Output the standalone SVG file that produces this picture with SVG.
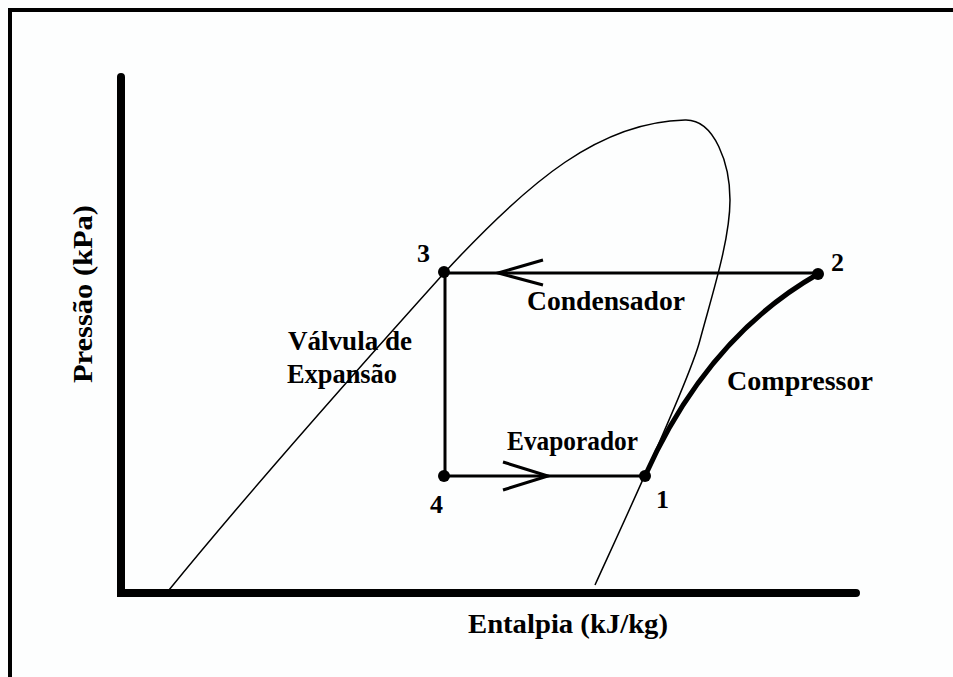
<svg xmlns="http://www.w3.org/2000/svg" width="953" height="677" viewBox="0 0 953 677">
<style>
.t{font-family:"Liberation Serif","Times New Roman",serif;font-weight:bold;fill:#000}
.lab{font-size:27px}
.num{font-size:26px}
.thin{fill:none;stroke:#000;stroke-width:1.5}
.ln{fill:none;stroke:#000;stroke-width:3}
.axis{fill:none;stroke:#000;stroke-width:8;stroke-linecap:round}
.dot{fill:#000}
</style>
<rect x="0" y="0" width="953" height="677" fill="#fdfefe"/>
<rect x="8" y="8" width="945" height="4" fill="#000"/>
<rect x="8" y="8" width="4" height="669" fill="#000"/>
<g id="axes">
<path class="axis" d="M121,77 L121,593 L856,593"/>
<text class="t lab" transform="translate(92,383) rotate(-90)" textLength="178" lengthAdjust="spacingAndGlyphs">Pressão (kPa)</text>
<text class="t lab" x="468" y="633" textLength="200" lengthAdjust="spacingAndGlyphs">Entalpia (kJ/kg)</text>
</g>
<g id="dome">
<path class="thin" d="M169,590 C230,515 330,400 445,272 C530,180 600,122 685,120 C715,119 730,165 730,200 C730,240 712,295 700,340 C690,380 620,530 595,585"/>
</g>
<g id="connectors">
<path class="ln" d="M818,273 L445,273"/>
<path class="ln" d="M543,260 L498,273 L543,285"/>
<path class="ln" d="M445,273 L445,476"/>
<path class="ln" d="M445,476 L645,476"/>
<path class="ln" d="M503,462 L548,476 L503,490"/>
<path fill="none" stroke="#000" stroke-width="5" stroke-linecap="round" d="M645,476 C670,420 720,330 818,274"/>
</g>
<g id="node-3"><circle class="dot" cx="444" cy="272" r="6"/><text class="t num" x="417" y="262">3</text></g>
<g id="node-2"><circle class="dot" cx="818" cy="274" r="6"/><text class="t num" x="831" y="271">2</text></g>
<g id="node-4"><circle class="dot" cx="444" cy="476" r="6"/><text class="t num" x="430" y="513">4</text></g>
<g id="node-1"><circle class="dot" cx="645" cy="476" r="6"/><text class="t num" x="656" y="508">1</text></g>
<g id="labels">
<text class="t lab" x="527" y="310" textLength="158" lengthAdjust="spacingAndGlyphs">Condensador</text>
<text class="t lab" x="727" y="390" textLength="146" lengthAdjust="spacingAndGlyphs">Compressor</text>
<text class="t lab" x="507" y="450" textLength="131" lengthAdjust="spacingAndGlyphs">Evaporador</text>
<text class="t lab" x="288" y="350" textLength="124" lengthAdjust="spacingAndGlyphs">Válvula de</text>
<text class="t lab" x="287" y="383" textLength="110" lengthAdjust="spacingAndGlyphs">Expansão</text>
</g>
</svg>
